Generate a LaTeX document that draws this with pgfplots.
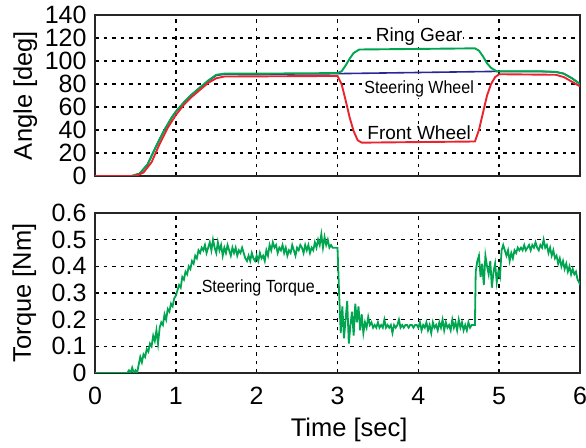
\documentclass[border=0pt]{standalone}
\usepackage{pgfplots}
\pgfplotsset{compat=1.18}
\usepackage{fontspec}
\setmainfont{Liberation Sans}

\definecolor{rgreen}{RGB}{0,165,80}
\definecolor{fblue}{RGB}{40,40,150}
\definecolor{fred}{RGB}{235,35,45}

\pgfplotsset{
  panel/.style={
    scale only axis,
    width=485pt,
    xmin=0, xmax=6,
    xtick={0,1,2,3,4,5,6},
    grid=major,
    major grid style={black, line width=1.6pt, dash pattern=on 3.5pt off 5pt},
    tick style={draw=none},
    axis line style={line width=2.6pt, black!85},
    tick label style={font=\fontsize{25}{25}\selectfont},
    yticklabel style={xshift=-5pt},
    xticklabel style={yshift=-11pt},
    /pgf/number format/assume math mode=true,
    label style={font=\fontsize{25.5}{26}\selectfont},
  },
}
\tikzset{lbl/.style={fill=white, inner sep=1pt}}

\begin{document}
\begin{tikzpicture}
\useasboundingbox (0,0) rectangle (586pt,447pt);

% angles
\begin{axis}[
    panel,
    at={(95pt,271pt)}, anchor=south west,
    height=161pt,
    ymin=0, ymax=140,
    ytick={0,20,40,60,80,100,120,140},
    xticklabels={},
    ylabel={Angle [deg]},
    ylabel style={at={(axis description cs:-0.144,0.5)}, anchor=center},
]
\addplot[fblue, line width=1.6pt] coordinates {
  (0,0) (0.45,0) (0.55,2) (0.65,10) (0.75,25) (0.85,39) (0.95,51) (1.0,56)
  (1.1,64) (1.2,71) (1.3,77) (1.4,82.5) (1.5,87.5) (1.6,88.5) (2.0,88.5)
  (3.0,89) (3.5,89.5) (4.0,90) (4.5,90.5) (5.0,91) (5.5,91) (5.7,90.5)
  (5.8,89) (5.9,85) (6.0,80)
};
\addplot[rgreen, line width=1.9pt] coordinates {
  (0,0) (0.45,0) (0.55,2) (0.65,10) (0.75,25) (0.85,39) (0.95,51) (1.0,56)
  (1.1,64) (1.2,71) (1.3,77) (1.4,83) (1.5,88) (1.6,89) (2.0,89) (3.0,89.5)
  (3.05,91) (3.1,96) (3.15,102) (3.2,107) (3.27,110) (4.0,110.5) (4.7,111)
  (4.75,109) (4.8,104) (4.85,98) (4.9,94) (4.97,91) (5.5,91) (5.7,90.5)
  (5.8,89) (5.9,85) (6.0,80)
};
\addplot[fred, line width=1.9pt] coordinates {
  (0,0) (0.5,0) (0.6,3) (0.7,12) (0.8,28) (0.9,42) (1.0,53) (1.1,62)
  (1.2,69) (1.3,75) (1.4,81) (1.5,85) (1.6,86.5) (3.0,87) (3.05,80)
  (3.1,66) (3.15,51) (3.2,39) (3.25,31) (3.3,29) (4.0,29.5) (4.7,30)
  (4.75,40) (4.8,55) (4.85,70) (4.9,80) (4.95,86) (5.0,88.5) (5.7,88)
  (5.8,86) (5.9,82) (6.0,78)
};
\node[lbl, font=\fontsize{19}{19}\selectfont] at (axis cs:4.01,121) {Ring Gear};
\node[lbl, font=\fontsize{16}{16}\selectfont, yscale=1.1] at (axis cs:4.01,75.5) {Steering Wheel};
\node[lbl, font=\fontsize{19}{19}\selectfont] at (axis cs:4.01,38) {Front Wheel};
\end{axis}

% torque
\begin{axis}[
    panel,
    at={(95pt,74pt)}, anchor=south west,
    height=160pt,
    ymin=0, ymax=0.6,
    ytick={0,0.1,0.2,0.3,0.4,0.5,0.6},
    ylabel={Torque [Nm]},
    ylabel style={at={(axis description cs:-0.146,0.5)}, anchor=center},
    xlabel={Time [sec]},
    xlabel style={at={(axis description cs:0.524,-0.356)}, anchor=center},
]
\addplot[rgreen, line width=1.8pt] coordinates {
  (0,0) (0.4,0) (0.42,0.01) (0.44,0.0) (0.46,0.02) (0.48,0.0) (0.50,0.01)
  (0.52,0.0) (0.54,0.03) (0.56,0.06) (0.58,0.04) (0.60,0.07) (0.62,0.06)
  (0.64,0.09) (0.66,0.08) (0.68,0.11) (0.70,0.10) (0.72,0.14) (0.74,0.12)
  (0.76,0.16) (0.78,0.11) (0.80,0.17) (0.82,0.19) (0.84,0.18) (0.86,0.22)
  (0.88,0.20) (0.90,0.24) (0.92,0.23) (0.94,0.26) (0.96,0.25) (0.98,0.28)
  (1.00,0.29) (1.02,0.31) (1.04,0.33) (1.06,0.32) (1.08,0.36) (1.10,0.35)
  (1.12,0.38) (1.14,0.37) (1.16,0.40) (1.18,0.39) (1.20,0.42) (1.22,0.41)
  (1.24,0.44) (1.26,0.43) (1.28,0.46) (1.30,0.45) (1.32,0.47) (1.34,0.46)
  (1.36,0.48) (1.38,0.45) (1.40,0.47) (1.42,0.49) (1.44,0.46) (1.46,0.50)
  (1.48,0.47) (1.50,0.45) (1.52,0.49) (1.54,0.46) (1.56,0.48) (1.58,0.44)
  (1.60,0.47) (1.62,0.45) (1.64,0.48) (1.66,0.46) (1.68,0.44) (1.70,0.47)
  (1.72,0.45) (1.74,0.47) (1.76,0.44) (1.78,0.46) (1.80,0.45) (1.82,0.47)
  (1.84,0.45) (1.86,0.43) (1.88,0.42) (1.90,0.44) (1.92,0.42) (1.94,0.45)
  (1.96,0.43) (1.98,0.42) (2.00,0.44) (2.02,0.42) (2.04,0.45) (2.06,0.43)
  (2.08,0.44) (2.10,0.42) (2.12,0.46) (2.14,0.44) (2.16,0.48) (2.18,0.46)
  (2.20,0.49) (2.22,0.47) (2.24,0.48) (2.26,0.45) (2.28,0.47) (2.30,0.46)
  (2.32,0.48) (2.34,0.45) (2.36,0.47) (2.38,0.44) (2.40,0.46) (2.42,0.45)
  (2.44,0.48) (2.46,0.46) (2.48,0.44) (2.50,0.47) (2.52,0.46) (2.54,0.48)
  (2.56,0.47) (2.58,0.45) (2.60,0.48) (2.62,0.46) (2.64,0.48) (2.66,0.45)
  (2.68,0.47) (2.70,0.46) (2.72,0.49) (2.74,0.47) (2.76,0.50) (2.78,0.48)
  (2.80,0.52) (2.82,0.47) (2.84,0.51) (2.86,0.48) (2.88,0.50) (2.90,0.47)
  (2.92,0.48) (2.94,0.47) (2.96,0.47) (2.98,0.47) (3.00,0.47) (3.02,0.30)
  (3.04,0.15) (3.06,0.25) (3.08,0.13) (3.10,0.20) (3.12,0.27) (3.14,0.11)
  (3.16,0.18) (3.18,0.23) (3.20,0.14) (3.22,0.26) (3.24,0.19) (3.26,0.25)
  (3.28,0.16) (3.30,0.22) (3.32,0.15) (3.34,0.19) (3.36,0.17) (3.38,0.21)
  (3.40,0.18) (3.42,0.19) (3.44,0.17) (3.46,0.18) (3.48,0.17) (3.50,0.19)
  (3.52,0.17) (3.54,0.18) (3.56,0.17) (3.58,0.20) (3.60,0.17) (3.62,0.18)
  (3.64,0.17) (3.66,0.18) (3.68,0.15) (3.70,0.18) (3.72,0.17) (3.74,0.18)
  (3.76,0.20) (3.78,0.17) (3.80,0.18) (3.82,0.17) (3.84,0.18) (3.86,0.18)
  (3.88,0.17) (3.90,0.18) (3.92,0.18) (3.94,0.17) (3.96,0.18) (3.98,0.18)
  (4.00,0.17) (4.02,0.19) (4.04,0.16) (4.06,0.18) (4.08,0.17) (4.10,0.19)
  (4.12,0.16) (4.14,0.18) (4.16,0.15) (4.18,0.19) (4.20,0.17) (4.22,0.18)
  (4.24,0.16) (4.26,0.19) (4.28,0.17) (4.30,0.20) (4.32,0.16) (4.34,0.19)
  (4.36,0.17) (4.38,0.18) (4.40,0.16) (4.42,0.20) (4.44,0.17) (4.46,0.19)
  (4.48,0.16) (4.50,0.20) (4.52,0.17) (4.54,0.19) (4.56,0.16) (4.58,0.18)
  (4.60,0.16) (4.62,0.19) (4.64,0.17) (4.66,0.18) (4.68,0.18) (4.70,0.18)
  (4.71,0.38) (4.73,0.42) (4.75,0.44) (4.77,0.36) (4.79,0.41) (4.81,0.33)
  (4.83,0.44) (4.85,0.40) (4.87,0.37) (4.89,0.42) (4.91,0.32) (4.93,0.38)
  (4.95,0.41) (4.97,0.34) (4.99,0.38) (5.01,0.36) (5.03,0.46) (5.05,0.48)
  (5.07,0.46) (5.09,0.44) (5.11,0.46) (5.13,0.42) (5.15,0.45) (5.17,0.43)
  (5.19,0.46) (5.21,0.45) (5.23,0.47) (5.25,0.46) (5.27,0.47) (5.29,0.46)
  (5.31,0.48) (5.33,0.46) (5.35,0.47) (5.37,0.48) (5.39,0.46) (5.41,0.48)
  (5.43,0.47) (5.45,0.49) (5.47,0.47) (5.49,0.46) (5.51,0.48) (5.53,0.47)
  (5.55,0.50) (5.57,0.47) (5.59,0.48) (5.61,0.45) (5.63,0.47) (5.65,0.44)
  (5.67,0.46) (5.69,0.43) (5.71,0.44) (5.73,0.41) (5.75,0.43) (5.77,0.40)
  (5.79,0.42) (5.81,0.39) (5.83,0.41) (5.85,0.38) (5.87,0.40) (5.89,0.37)
  (5.91,0.39) (5.93,0.37) (5.95,0.38) (5.97,0.35) (5.99,0.34) (6.00,0.33)
};
\node[lbl, font=\fontsize{16}{16}\selectfont, yscale=1.1] at (axis cs:2.02,0.32) {Steering Torque};
\end{axis}
\end{tikzpicture}
\end{document}
